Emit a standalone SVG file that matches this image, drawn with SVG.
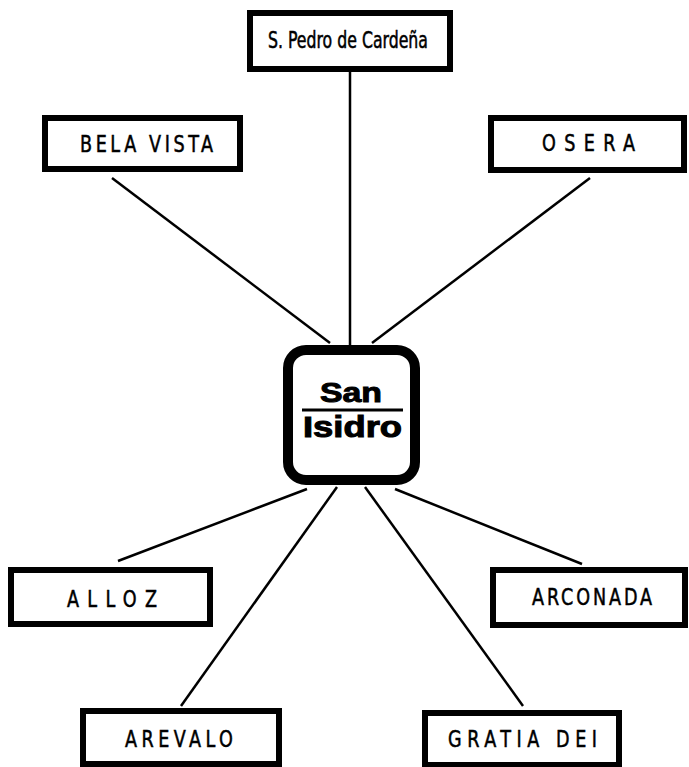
<svg xmlns="http://www.w3.org/2000/svg" width="689" height="767" viewBox="0 0 689 767">
<style>
.box{fill:#fff;stroke:#000;stroke-width:6}
.lbl{font-family:"Liberation Sans Narrow","DejaVu Sans Condensed","Liberation Sans",sans-serif;font-size:23px;fill:#000;stroke:#000;stroke-width:0.5}
.con{stroke:#000;stroke-width:2.5;fill:none}
.ctr{font-family:"Liberation Sans","Arial",sans-serif;font-weight:bold;fill:#000;stroke:#000;stroke-width:1}
</style>
<rect width="689" height="767" fill="#fff"/>
<g id="connectors">
<line class="con" x1="350" y1="72" x2="350" y2="345"/>
<line class="con" x1="112" y1="178" x2="330" y2="343"/>
<line class="con" x1="590" y1="178" x2="372" y2="343"/>
<line class="con" x1="118" y1="561" x2="307" y2="489"/>
<line class="con" x1="582" y1="564" x2="395" y2="489"/>
<line class="con" x1="181" y1="706" x2="337" y2="487"/>
<line class="con" x1="523" y1="706" x2="365" y2="487"/>
</g>
<g id="san-isidro">
<rect x="288" y="350" width="127" height="130" rx="18" fill="#fff" stroke="#000" stroke-width="10"/>
<text class="ctr" x="320" y="402" font-size="28" textLength="62" lengthAdjust="spacingAndGlyphs">San</text>
<line x1="302" y1="410" x2="403" y2="410" stroke="#000" stroke-width="3"/>
<text class="ctr" x="303" y="437" font-size="29" textLength="99" lengthAdjust="spacingAndGlyphs">Isidro</text>
</g>
<g id="s-pedro">
<rect class="box" x="250" y="13" width="200" height="56"/>
<text class="lbl" x="268" y="48" textLength="160" lengthAdjust="spacingAndGlyphs">S. Pedro de Cardeña</text>
</g>
<g id="bela-vista">
<rect class="box" x="45" y="118" width="195" height="51"/>
<text class="lbl" transform="translate(80,152) scale(0.85,1)" x="0" y="0" textLength="156.5" lengthAdjust="spacing">BELA VISTA</text>
</g>
<g id="osera">
<rect class="box" x="491" y="118" width="193" height="52"/>
<text class="lbl" transform="translate(542,151) scale(0.85,1)" x="0" y="0" textLength="109.4" lengthAdjust="spacing">OSERA</text>
</g>
<g id="alloz">
<rect class="box" x="11" y="570" width="199" height="54"/>
<text class="lbl" transform="translate(67,607) scale(0.85,1)" x="0" y="0" textLength="105.9" lengthAdjust="spacing">ALLOZ</text>
</g>
<g id="arconada">
<rect class="box" x="493" y="570" width="192" height="55"/>
<text class="lbl" transform="translate(532,605) scale(0.85,1)" x="0" y="0" textLength="141.2" lengthAdjust="spacing">ARCONADA</text>
</g>
<g id="arevalo">
<rect class="box" x="83" y="711" width="196" height="53"/>
<text class="lbl" transform="translate(125,747) scale(0.85,1)" x="0" y="0" textLength="127" lengthAdjust="spacing">AREVALO</text>
</g>
<g id="gratia-dei">
<rect class="box" x="425" y="713" width="194" height="52"/>
<text class="lbl" transform="translate(448,747) scale(0.85,1)" x="0" y="0" textLength="175.3" lengthAdjust="spacing">GRATIA DEI</text>
</g>
</svg>
